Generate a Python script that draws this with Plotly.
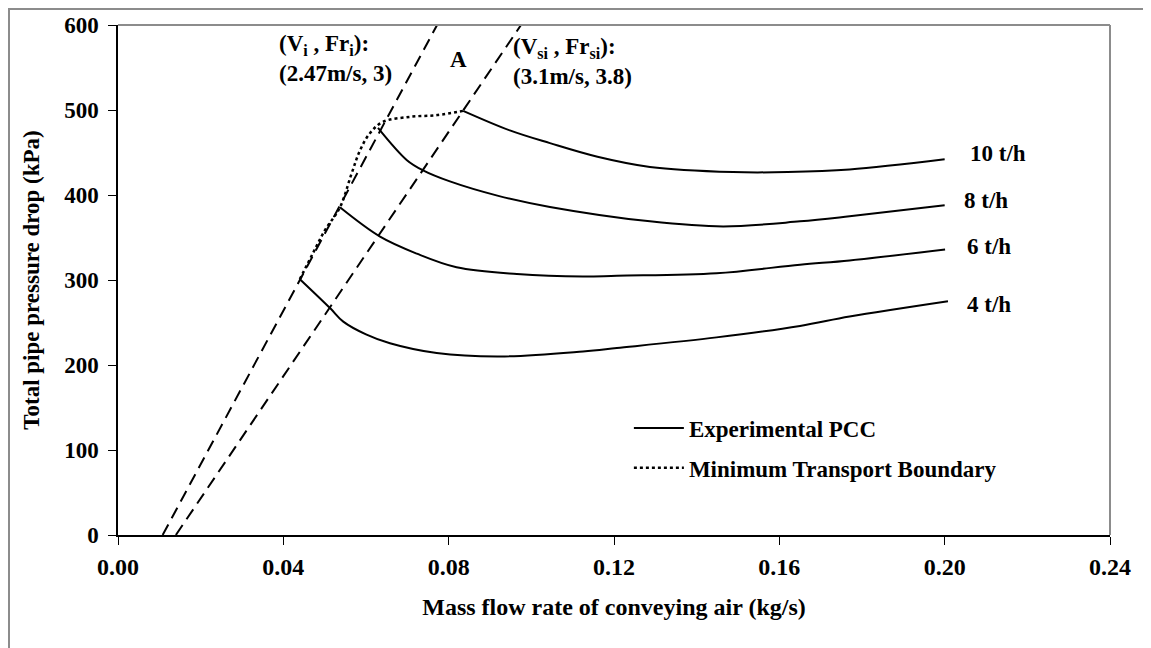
import plotly.graph_objects as go

# ---- data ----
x_10 = [0.0835, 0.0948, 0.1045, 0.1160, 0.1287, 0.1488, 0.1620, 0.1770, 0.2000]
y_10 = [499, 476, 461, 445, 433, 427, 427, 430, 442]

x_8 = [0.0629, 0.0699, 0.0738, 0.0803, 0.0920, 0.1045, 0.1287, 0.1464, 0.1650, 0.1770, 0.2000]
y_8 = [479, 441, 429, 416, 399, 386, 369, 363, 369, 375, 388]

x_6 = [0.0537, 0.0634, 0.0723, 0.0819, 0.0965, 0.1125, 0.1207, 0.1448, 0.1650, 0.1770, 0.2001]
y_6 = [385.5, 351, 331, 315, 307, 304, 305, 308, 318, 323, 336]

x_4 = [0.0440, 0.0513, 0.0545, 0.0600, 0.0658, 0.0771, 0.0924, 0.1125, 0.1207, 0.1448, 0.1650, 0.1770, 0.2008]
y_4 = [301, 267, 251, 236, 225.5, 214, 210, 216, 220, 232.5, 246, 257, 275]

x_mtb = [0.0440, 0.0470, 0.0500, 0.0537, 0.0565, 0.0586, 0.0610, 0.0641, 0.0707, 0.0772, 0.0835]
y_mtb = [301, 330, 358, 385.5, 425, 453, 473, 486, 492, 494, 499]

x_vi_line = [0.0108, 0.0772]
y_vi_line = [0, 600]
x_vsi_line = [0.0140, 0.0975]
y_vsi_line = [0, 600]

curve_labels = ["10 t/h", "8 t/h", "6 t/h", "4 t/h"]
label_x = [0.2057, 0.2042, 0.2049, 0.2049]
label_y = [449, 394, 340, 271]

x_ticks = [0.00, 0.04, 0.08, 0.12, 0.16, 0.20, 0.24]
x_tick_text = ["0.00", "0.04", "0.08", "0.12", "0.16", "0.20", "0.24"]
y_ticks = [0, 100, 200, 300, 400, 500, 600]

FONT = "Liberation Serif"
bold = dict(family=FONT, size=23, color="black", weight="bold")
bold_x = dict(family=FONT, size=24, color="black", weight="bold")

# figure is placed at (8, 8) in the page by the default body margin
W, H = 1143, 640
L, R, T, B = 110, 41, 17, 113
PW, PH = W - L - R, H - T - B

fig = go.Figure()

dash_style = "12px,7px"
fig.add_trace(go.Scatter(x=x_vi_line, y=y_vi_line, mode="lines",
                         line=dict(color="black", width=2, dash=dash_style),
                         showlegend=False, hoverinfo="skip"))
fig.add_trace(go.Scatter(x=x_vsi_line, y=y_vsi_line, mode="lines",
                         line=dict(color="black", width=2, dash=dash_style),
                         showlegend=False, hoverinfo="skip"))

series = [(x_10, y_10), (x_8, y_8), (x_6, y_6), (x_4, y_4)]
for i, (xs, ys) in enumerate(series):
    fig.add_trace(go.Scatter(x=xs, y=ys, mode="lines", line_shape="spline",
                             line=dict(color="black", width=2),
                             name="Experimental PCC", legendgroup="pcc",
                             showlegend=(i == 0)))

fig.add_trace(go.Scatter(x=x_mtb, y=y_mtb, mode="lines", line_shape="spline",
                         line=dict(color="black", width=2.5, dash="dot"),
                         name="Minimum Transport Boundary", legendgroup="mtb"))

for t, lx, ly in zip(curve_labels, label_x, label_y):
    fig.add_annotation(x=lx, y=ly, text=t, showarrow=False, xanchor="left",
                       yanchor="middle", font=bold)

fig.add_annotation(x=0.0385, y=561, text="(V<sub>i</sub> , Fr<sub>i</sub>):<br>(2.47m/s, 3)",
                   showarrow=False, xanchor="left", yanchor="middle", align="left", font=bold)
fig.add_annotation(x=0.0823, y=559, text="A", showarrow=False, font=bold)
fig.add_annotation(x=0.0952, y=557, text="(V<sub>si</sub> , Fr<sub>si</sub>):<br>(3.1m/s, 3.8)",
                   showarrow=False, xanchor="left", yanchor="middle", align="left", font=bold)

# plot area top/right border (grey) and outer chart border (left/top visible)
fig.add_shape(type="line", xref="paper", yref="paper", x0=0, x1=1, y0=1, y1=1,
              line=dict(color="#8c8c8c", width=2))
fig.add_shape(type="line", xref="paper", yref="paper", x0=1, x1=1, y0=0, y1=1,
              line=dict(color="#8c8c8c", width=2))
fig.add_shape(type="rect", xref="paper", yref="paper",
              x0=(1 - L) / PW, x1=(W + 20 - L) / PW,
              y0=-(H + 20 - T - PH) / PH, y1=(T + PH - 1) / PH,
              line=dict(color="#8c8c8c", width=2), layer="below")

fig.update_layout(
    width=W, height=H,
    margin=dict(l=L, r=R, t=T, b=B, autoexpand=False),
    paper_bgcolor="white", plot_bgcolor="white",
    font=bold,
    showlegend=True,
    legend=dict(x=0.515, y=0.252, xanchor="left", yanchor="top", itemwidth=50,
                bgcolor="rgba(0,0,0,0)", tracegroupgap=7, font=bold),
    xaxis=dict(range=[0, 0.24], tickvals=x_ticks, ticktext=x_tick_text, automargin=False,
               showgrid=False, zeroline=False, showline=True, linecolor="black",
               linewidth=1.5, ticks="outside", ticklen=8, tickcolor="black",
               ticklabelstandoff=1,
               title=dict(text="Mass flow rate of conveying air (kg/s)", standoff=20, font=bold_x),
               tickfont=bold_x),
    yaxis=dict(range=[0, 600], tickvals=y_ticks, automargin=False,
               showgrid=False, zeroline=False, showline=True, linecolor="black",
               linewidth=1.5, ticks="outside", ticklen=8, tickcolor="black",
               ticklabelstandoff=5,
               title=dict(text="Total pipe pressure drop (kPa)", standoff=18, font=bold),
               tickfont=bold),
)

fig.write_html("out.html")
